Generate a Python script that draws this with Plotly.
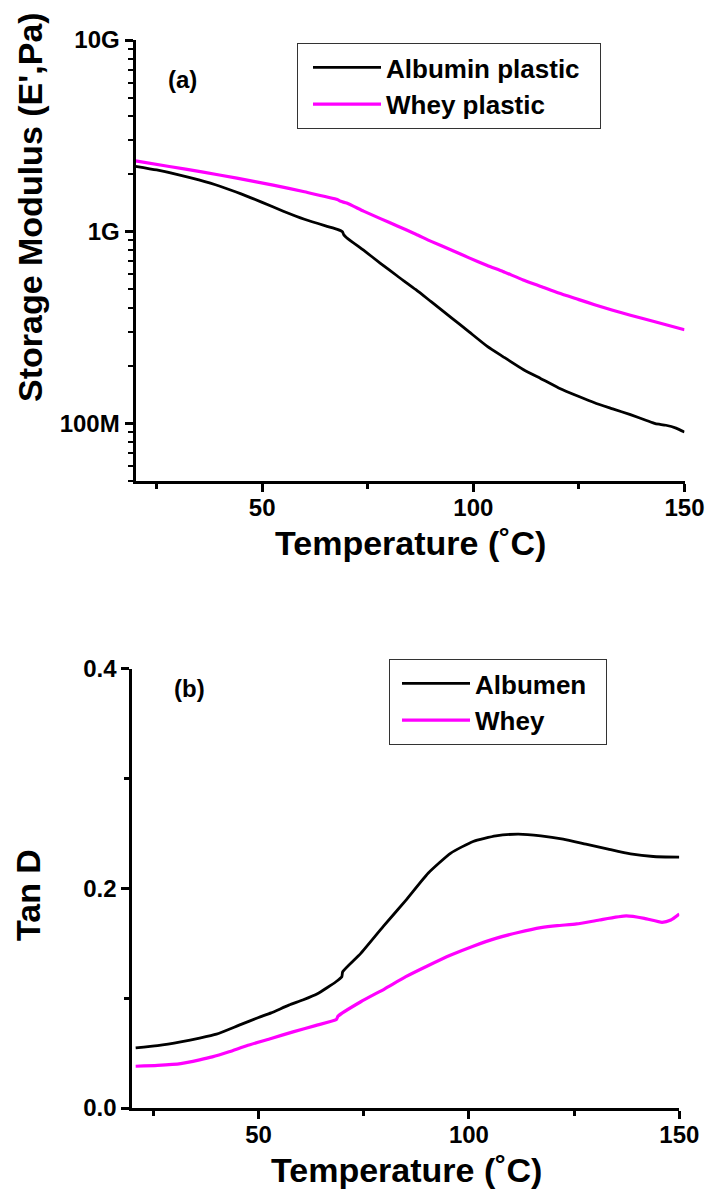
import plotly.graph_objects as go

# ---- Storage modulus (panel a) ----
temp_alb_e = [20, 25, 30, 35, 40, 45, 50, 55, 60, 65, 67.8, 69.0, 69.3, 70, 74, 78, 82, 86.4,
              90, 94.9, 99, 103.3, 107, 111.8, 116, 120.2, 125, 128.7, 133, 137.2, 141,
              143.1, 145.6, 148, 150]
modulus_albumin = [2.193e9, 2.099e9, 1.986e9, 1.862e9, 1.726e9, 1.574e9, 1.422e9, 1.279e9,
                   1.161e9, 1.072e9, 1.028e9, 1.0e9, 0.965e9, 0.93e9, 8.0e8, 6.84e8, 5.87e8,
                   4.98e8, 4.31e8, 3.54e8, 3.0e8, 2.52e8, 2.23e8, 1.91e8, 1.71e8, 1.53e8,
                   1.38e8, 1.28e8, 1.19e8, 1.11e8, 1.035e8, 0.996e8, 0.977e8, 0.944e8, 0.90e8]

temp_whey_e = [20, 28, 35.7, 44, 52.6, 60, 67.8, 68.6, 70, 74, 78, 82, 86.4, 90, 94.9, 99,
               103.3, 107, 111.8, 116, 120.2, 125, 128.7, 133, 137.2, 143, 150]
modulus_whey = [2.34e9, 2.188e9, 2.05e9, 1.901e9, 1.75e9, 1.614e9, 1.472e9, 1.44e9, 1.41e9,
                1.28e9, 1.17e9, 1.07e9, 9.7e8, 8.9e8, 8.0e8, 7.3e8, 6.66e8, 6.2e8, 5.6e8,
                5.18e8, 4.78e8, 4.42e8, 4.16e8, 3.89e8, 3.66e8, 3.39e8, 3.08e8]

# ---- Loss tangent (panel b) ----
temp_alb_t = [20.8, 26, 31.5, 36, 40, 45.4, 50, 53, 57.2, 60.5, 64, 68.4, 69.8, 70.0, 74.3,
              79.6, 85, 90.3, 95.7, 101, 106.4, 111.7, 117.1, 122.4, 127.8, 133.1, 138.4,
              143.8, 150]
tand_albumen = [0.0547, 0.0568, 0.0602, 0.0636, 0.0672, 0.0754, 0.0824, 0.0866, 0.0936,
                0.0983, 0.1040, 0.1149, 0.1195, 0.124, 0.1407, 0.165, 0.189, 0.2137, 0.232,
                0.2426, 0.2477, 0.2492, 0.2477, 0.2447, 0.2401, 0.2356, 0.2313, 0.2289, 0.2283]

temp_whey_t = [20.8, 26, 31.5, 36, 39, 43, 47.5, 53, 58.2, 63.5, 68.5, 68.9, 74.3, 80, 85,
               90, 95.7, 101, 106.4, 111.7, 117.1, 121, 125.6, 131, 137.4, 141.7, 145.9,
               148, 150]
tand_whey = [0.038, 0.0388, 0.0404, 0.0438, 0.0465, 0.0512, 0.0571, 0.0633, 0.0693, 0.0750,
             0.0805, 0.0836, 0.0967, 0.1085, 0.1195, 0.1290, 0.1392, 0.1473, 0.1544, 0.1597,
             0.1641, 0.1660, 0.1675, 0.1711, 0.1748, 0.1726, 0.169, 0.1711, 0.1766]

x_tickvals = [50, 100, 150]
x_minor_tickvals = [25, 75, 125]
e_tickvals = [1e8, 1e9, 1e10]
e_ticktext = ["100M", "1G", "10G"]
tand_tickvals = [0.0, 0.2, 0.4]
tand_ticktext = ["0.0", "0.2", "0.4"]
tand_minor_tickvals = [0.1, 0.3]

BLACK = "#000000"
MAGENTA = "#ff00ff"
FONT = "Liberation Sans, Arial, sans-serif"
NBSP = "\u00a0"

fig = go.Figure()

fig.add_trace(go.Scatter(x=temp_alb_e, y=modulus_albumin, mode="lines",
                         name="Albumin plastic" + NBSP * 2,
                         line=dict(color=BLACK, width=2.8, shape="spline", smoothing=0.5),
                         xaxis="x", yaxis="y", legend="legend"))
fig.add_trace(go.Scatter(x=temp_whey_e, y=modulus_whey, mode="lines", name="Whey plastic",
                         line=dict(color=MAGENTA, width=3.2, shape="spline", smoothing=0.5),
                         xaxis="x", yaxis="y", legend="legend"))
fig.add_trace(go.Scatter(x=temp_alb_t, y=tand_albumen, mode="lines",
                         name="Albumen" + NBSP * 2,
                         line=dict(color=BLACK, width=2.8, shape="spline", smoothing=0.5),
                         xaxis="x2", yaxis="y2", legend="legend2"))
fig.add_trace(go.Scatter(x=temp_whey_t, y=tand_whey, mode="lines", name="Whey",
                         line=dict(color=MAGENTA, width=3.2, shape="spline", smoothing=0.5),
                         xaxis="x2", yaxis="y2", legend="legend2"))

W, H = 706, 1191
tick_font = dict(family=FONT, size=24, color=BLACK, weight="bold")
common_x = dict(range=[20, 150], tickvals=x_tickvals, ticks="outside", ticklen=8, tickwidth=2.5,
                tickcolor=BLACK, showline=True, linecolor=BLACK, linewidth=3, showgrid=False,
                zeroline=False, tickfont=tick_font, automargin=False, ticklabelstandoff=-5,
                minor=dict(tickvals=x_minor_tickvals, ticks="outside", ticklen=5, tickwidth=2.5,
                           tickcolor=BLACK))
common_y = dict(ticks="outside", ticklen=8, tickwidth=2.5, tickcolor=BLACK,
                showline=True, linecolor=BLACK, linewidth=3, showgrid=False, zeroline=False,
                tickfont=tick_font, automargin=False)
legend_style = dict(xanchor="left", yanchor="top", bordercolor="#333333", borderwidth=1,
                    bgcolor="white", itemwidth=68, tracegroupgap=0,
                    font=dict(family=FONT, size=26, color=BLACK, weight="bold"))

fig.update_layout(
    width=W, height=H,
    margin=dict(l=0, r=0, t=0, b=0, autoexpand=False),
    paper_bgcolor="white", plot_bgcolor="white",
    font=dict(family=FONT, color=BLACK),
    xaxis=dict(domain=[135.5 / W, 684.5 / W], anchor="y", **common_x),
    yaxis=dict(domain=[1 - 481 / H, 1 - 40 / H], anchor="x", type="log",
               range=[7.699, 10], tickvals=e_tickvals, ticktext=e_ticktext,
               minor=dict(dtick="D1", ticks="outside", ticklen=5, tickwidth=2, tickcolor=BLACK),
               **common_y),
    xaxis2=dict(domain=[132.3 / W, 679.3 / W], anchor="y2", **common_x),
    yaxis2=dict(domain=[1 - 1108 / H, 1 - 668.5 / H], anchor="x2",
                range=[0, 0.4], tickvals=tand_tickvals, ticktext=tand_ticktext,
                minor=dict(tickvals=tand_minor_tickvals, ticks="outside", ticklen=5,
                           tickwidth=2.5, tickcolor=BLACK),
                **common_y),
    legend=dict(x=297 / W, y=1 - 43 / H, indentation=10, **legend_style),
    legend2=dict(x=389 / W, y=1 - 659 / H, indentation=7, **legend_style),
    showlegend=True,
)

title_font = dict(family=FONT, size=34, color=BLACK, weight="bold")
label_font = dict(family=FONT, size=24, color=BLACK, weight="bold")


def label(text, x, y, font, angle=0):
    fig.add_annotation(text=text, xref="paper", yref="paper", x=x / W, y=1 - y / H,
                       xanchor="center", yanchor="middle", textangle=angle,
                       showarrow=False, font=font)


label("Storage Modulus (E',Pa)", 30, 207, title_font, angle=-90)
label("Temperature (˚C)", 410, 543, title_font)
label("(a)", 182, 79, label_font)

label("Tan D", 28, 895, title_font, angle=-90)
label("Temperature (˚C)", 406, 1170, title_font)
label("(b)", 190, 688, label_font)

fig.write_html("out.html")
